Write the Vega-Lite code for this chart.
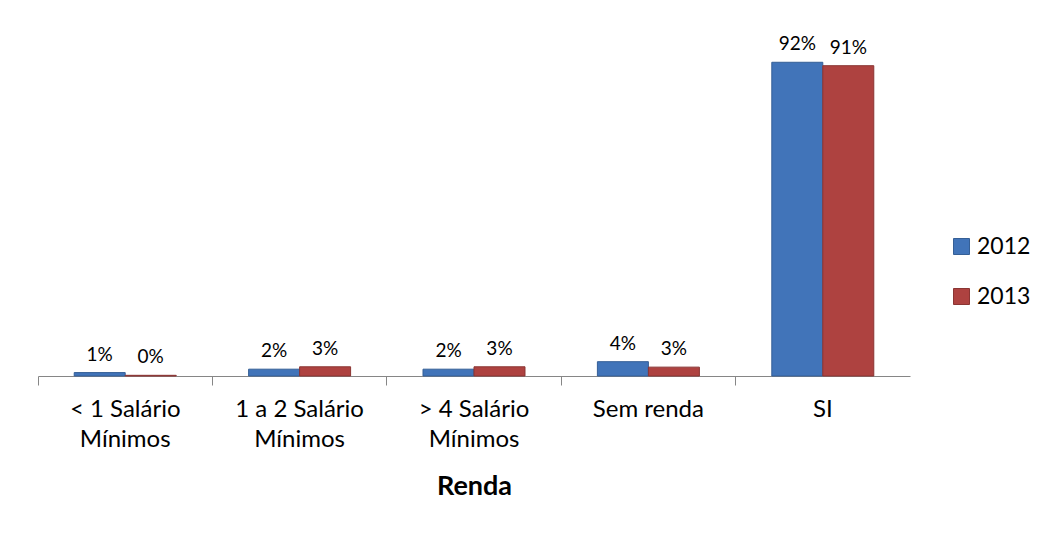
{
  "$schema": "https://vega.github.io/schema/vega-lite/v6.json",
  "width": 872,
  "height": 341,
  "autosize": "none",
  "padding": {"left": 38, "top": 35, "right": 140, "bottom": 159},
  "background": "white",
  "config": {
    "view": {"stroke": null},
    "font": "Lato",
    "text": {"font": "Lato"}
  },
  "data": {
    "values": [
      {"renda": "< 1 Salário|Mínimos", "ano": "2012", "pct": 0.01},
      {"renda": "< 1 Salário|Mínimos", "ano": "2013", "pct": 0.002},
      {"renda": "1 a 2 Salário|Mínimos", "ano": "2012", "pct": 0.02},
      {"renda": "1 a 2 Salário|Mínimos", "ano": "2013", "pct": 0.027},
      {"renda": "> 4 Salário|Mínimos", "ano": "2012", "pct": 0.02},
      {"renda": "> 4 Salário|Mínimos", "ano": "2013", "pct": 0.027},
      {"renda": "Sem renda", "ano": "2012", "pct": 0.042},
      {"renda": "Sem renda", "ano": "2013", "pct": 0.026},
      {"renda": "SI", "ano": "2012", "pct": 0.92},
      {"renda": "SI", "ano": "2013", "pct": 0.91}
    ]
  },
  "encoding": {
    "x": {
      "field": "renda",
      "type": "nominal",
      "sort": null,
      "scale": {"paddingInner": 0, "paddingOuter": 0},
      "axis": {
        "title": "Renda",
        "titleFont": "Lato",
        "titleFontSize": 27,
        "titleFontWeight": "bold",
        "titleColor": "#000000",
        "titlePadding": 22,
        "labelExpr": "split(datum.label, '|')",
        "labelFont": "Lato",
        "labelFontSize": 24,
        "labelColor": "#000000",
        "labelLineHeight": 30,
        "labelAngle": 0,
        "labelPadding": 12,
        "labelBaseline": "top",
        "bandPosition": 0,
        "tickSize": 9,
        "tickColor": "#868686",
        "domainColor": "#868686",
        "domainWidth": 1,
        "tickWidth": 1
      }
    },
    "xOffset": {
      "field": "ano",
      "type": "nominal",
      "scale": {"paddingInner": 0, "paddingOuter": 0.71}
    },
    "y": {
      "field": "pct",
      "type": "quantitative",
      "scale": {"domain": [0, 1]},
      "axis": null
    }
  },
  "layer": [
    {
      "mark": {"type": "bar", "strokeWidth": 1},
      "encoding": {
        "color": {
          "field": "ano",
          "type": "nominal",
          "scale": {"domain": ["2012", "2013"], "range": ["#4174B9", "#AE4240"]},
          "legend": {
            "title": null,
            "orient": "none",
            "legendX": 912,
            "legendY": 200,
            "symbolType": "square",
            "symbolSize": 256,
            "symbolStrokeWidth": 1,
            "labelFont": "Lato",
            "labelFontSize": 23,
            "labelColor": "#000000",
            "rowPadding": 26,
            "labelOffset": 4
          }
        },
        "stroke": {
          "field": "ano",
          "type": "nominal",
          "scale": {"domain": ["2012", "2013"], "range": ["#355F96", "#8A3533"]},
          "legend": null
        }
      }
    },
    {
      "mark": {"type": "text", "baseline": "bottom", "dy": -8, "fontSize": 19, "font": "Lato", "color": "#000000"},
      "encoding": {
        "text": {"field": "pct", "type": "quantitative", "format": ".0%"}
      }
    }
  ]
}
